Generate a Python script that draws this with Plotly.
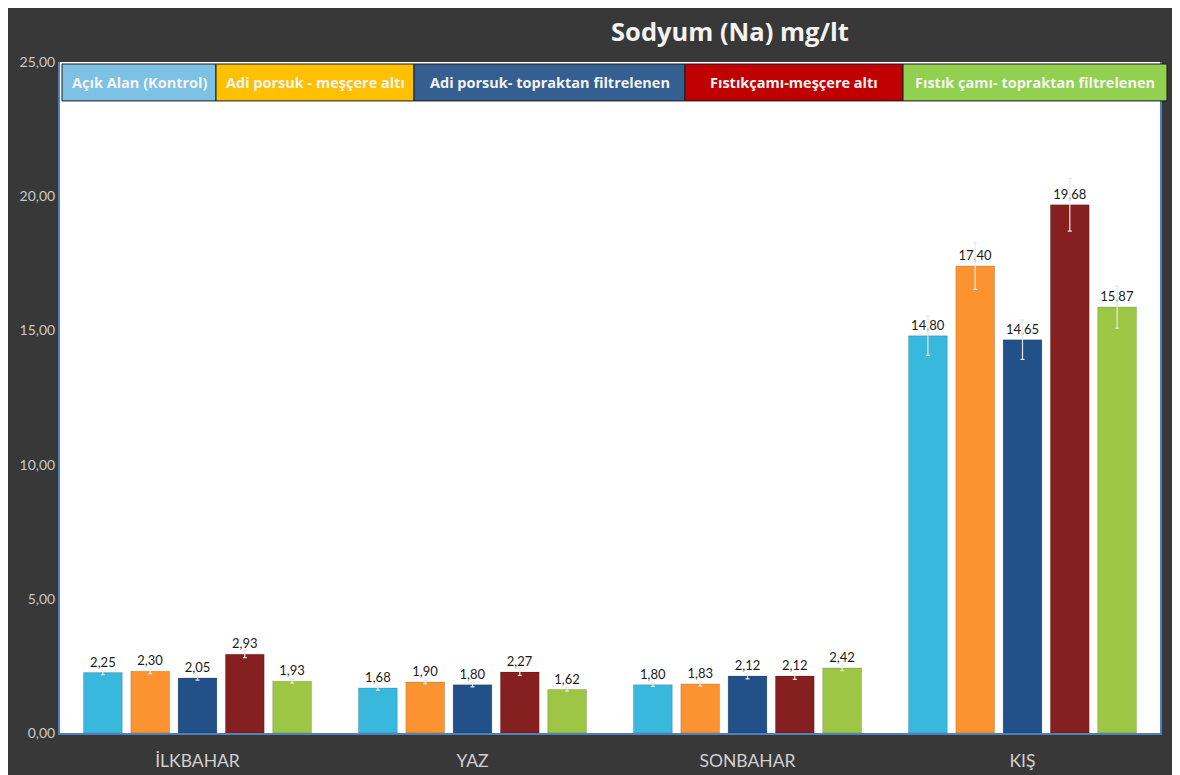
import plotly.graph_objects as go

seasons = ["İLKBAHAR", "YAZ", "SONBAHAR", "KIŞ"]
series_names = [
    "Açık Alan (Kontrol)",
    "Adi porsuk - meşçere altı",
    "Adi porsuk- topraktan filtrelenen",
    "Fıstıkçamı-meşçere altı",
    "Fıstık çamı- topraktan filtrelenen",
]
acik_alan = [2.25, 1.68, 1.80, 14.80]
adi_mescere = [2.30, 1.90, 1.83, 17.40]
adi_toprak = [2.05, 1.80, 2.12, 14.65]
fistik_mescere = [2.93, 2.27, 2.12, 19.68]
fistik_toprak = [1.93, 1.62, 2.42, 15.87]

err_acik = [0.08, 0.08, 0.06, 0.73]
err_adi_m = [0.09, 0.06, 0.08, 0.87]
err_adi_t = [0.08, 0.08, 0.10, 0.73]
err_fis_m = [0.12, 0.12, 0.12, 0.98]
err_fis_t = [0.07, 0.06, 0.10, 0.79]

values = [acik_alan, adi_mescere, adi_toprak, fistik_mescere, fistik_toprak]
errors = [err_acik, err_adi_m, err_adi_t, err_fis_m, err_fis_t]
bar_colors = ["#38b8dc", "#fb9430", "#22518a", "#861f1f", "#9cc643"]
legend_colors = ["#7dc1e4", "#ffc000", "#355f91", "#c00000", "#92d050"]
y_ticks = [0, 5, 10, 15, 20, 25]

fig = go.Figure()
for name, vals, errs, col in zip(series_names, values, errors, bar_colors):
    fig.add_trace(go.Bar(
        x=seasons, y=vals, name=name,
        marker=dict(color=col, line=dict(color="rgba(0,0,0,0.15)", width=1)),
        error_y=dict(type="data", array=errs, visible=True, color="#e8e8e8",
                     thickness=1.2, width=2),
        text=[f"{v:.2f}".replace(".", ",") for v in vals],
        textposition="outside", cliponaxis=False,
        textfont=dict(color="#1a1a1a", size=13, family="Lato"),
        showlegend=False,
    ))

# legend as coloured boxes (custom, Excel-style); pixel edges relative to page
edges_px = [62, 216, 414, 685, 903, 1167]
L, W = 60, 1100
for i, (name, col) in enumerate(zip(series_names, legend_colors)):
    x0 = (edges_px[i] - L) / W
    x1 = (edges_px[i + 1] - L) / W
    fig.add_shape(type="rect", xref="paper", yref="paper", x0=x0, x1=x1,
                  y0=0.942, y1=0.997, fillcolor=col,
                  line=dict(color="#1a1a1a", width=1), layer="above")
    fig.add_annotation(xref="paper", yref="paper", x=(x0 + x1) / 2, y=0.9695,
                       xanchor="center", yanchor="middle",
                       text=f"<b>{name}</b>", showarrow=False,
                       font=dict(color="#f4f4f4", size=14.5, family="Open Sans"))

# page has an 8px body margin: figure is 1172x767 placed at (8,8)
fig.update_layout(
    width=1172, height=767,
    margin=dict(l=52, r=20, t=54, b=42),
    paper_bgcolor="#383838",
    plot_bgcolor="white",
    separators=",.",
    barmode="group", bargap=0.14, bargroupgap=0.18,
    title=dict(text="<b>Sodyum (Na) mg/lt</b>", x=0.616, xanchor="center",
               y=0.968, yanchor="middle",
               font=dict(color="#f2f2f2", size=25.5, family="Open Sans")),
    xaxis=dict(showgrid=False, showline=True, linecolor="#4f81bd", linewidth=2,
               tickfont=dict(color="#d0d0d0", size=17.5, family="Lato"),
               ticks="", ticklabelstandoff=11, mirror=False, automargin=False),
    yaxis=dict(range=[0, 25], tickvals=y_ticks, tickformat=".2f",
               showgrid=False, zeroline=False, showline=True,
               linecolor="#4f81bd", linewidth=2, mirror=True,
               tickfont=dict(color="#c8c8c8", size=14, family="Lato"),
               ticks="", automargin=False),
)

fig.write_html("out.html", config={"displayModeBar": False})
